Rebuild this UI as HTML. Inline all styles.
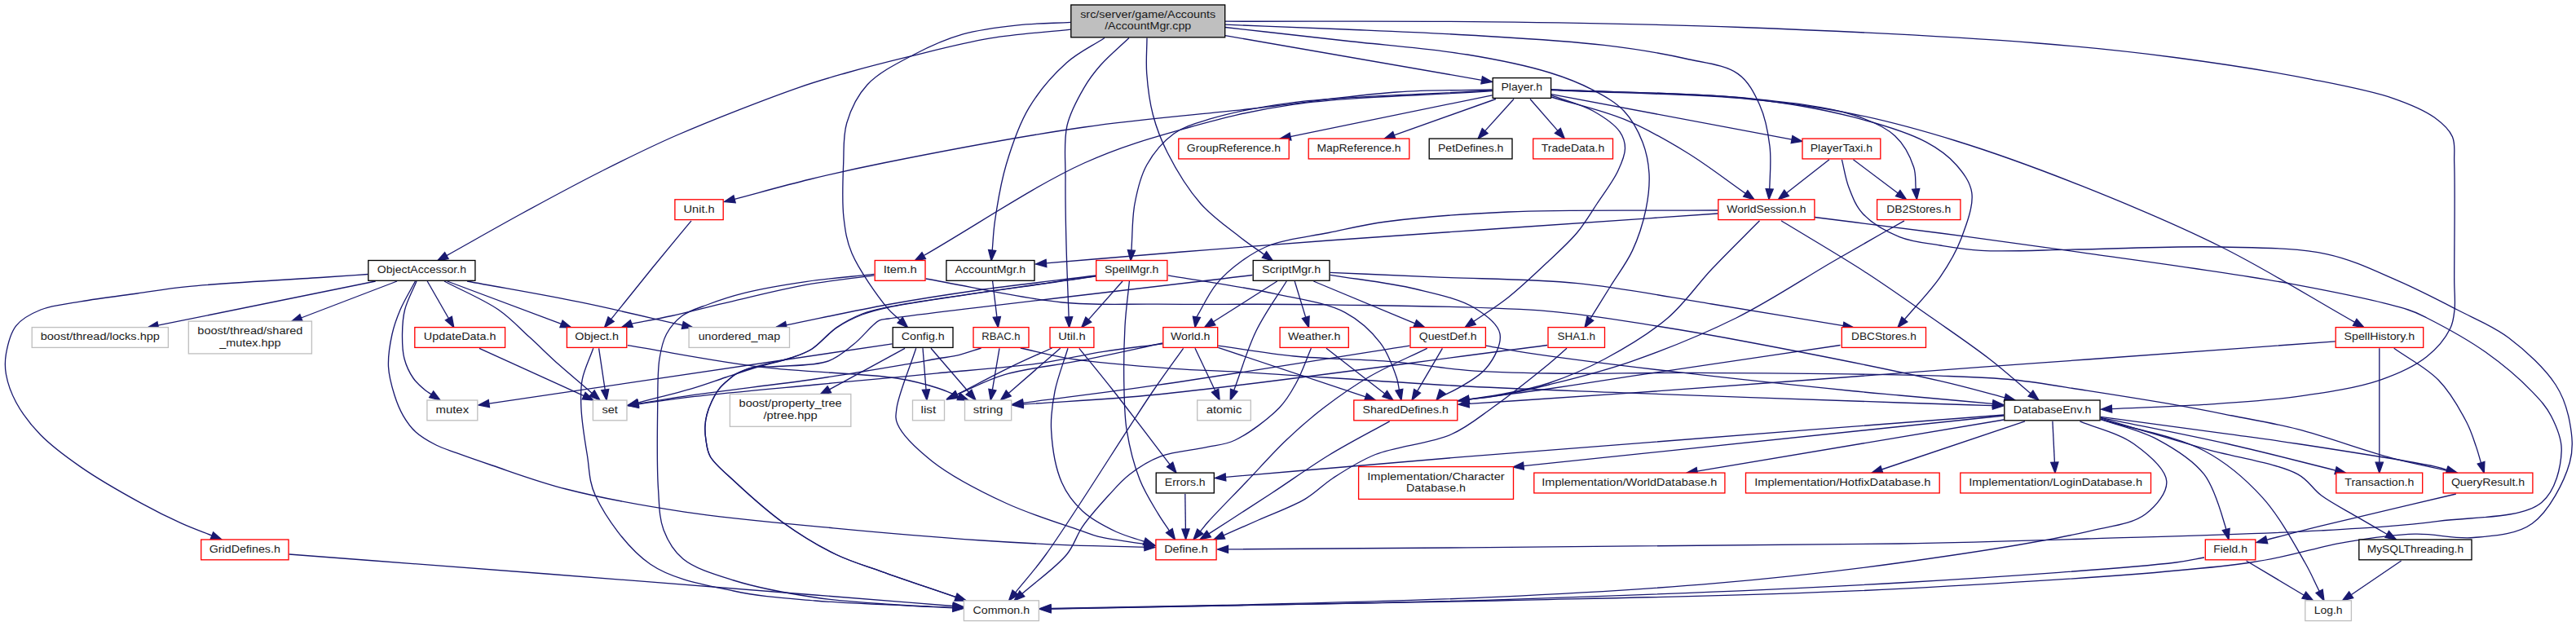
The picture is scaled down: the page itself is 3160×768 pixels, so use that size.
<!DOCTYPE html><html><head><meta charset="utf-8"><style>html,body{margin:0;padding:0;background:#fff;overflow:hidden}svg{display:block}.lbl text{font-family:"Liberation Sans",sans-serif;font-size:13px;fill:#1a1a1a;}</style></head><body>
<svg width="3160" height="768" viewBox="0 0 3160 768">
<rect width="3160" height="768" fill="#fff"/>
<g fill="none" stroke="#191970" stroke-width="1.33">
<path d="M1313.5,36.2 C1280.6,39.8 1247.8,41.4 1214.9,46.9 C1181.3,52.5 1145.4,62.1 1114.2,69.7 C1087.0,76.3 1061.6,82.8 1038.0,89.5 C1017.3,95.4 1003.7,99.1 980.0,107.3 C941.5,120.7 873.6,147.1 830.0,166.0 C795.3,181.1 769.0,194.4 738.0,210.0 C705.7,226.3 672.1,244.5 640.0,262.0 C608.7,279.1 578.6,296.4 547.8,313.6"/>
<path d="M1313.5,27.4 C1291.8,28.5 1270.3,28.4 1248.5,30.8 C1226.2,33.2 1202.8,35.8 1181.3,41.9 C1160.3,47.9 1140.4,56.8 1121.0,67.0 C1101.2,77.4 1077.9,88.8 1063.9,104.0 C1051.5,117.4 1043.5,134.6 1038.7,151.0 C1034.1,166.7 1035.4,182.4 1034.7,200.0 C1033.9,220.6 1032.7,247.2 1035.0,267.0 C1036.9,283.2 1038.4,295.2 1045.0,310.7 C1053.8,331.4 1076.9,363.8 1088.5,377.8 C1094.5,385.1 1099.0,387.8 1104.2,392.8"/>
<path d="M1355.0,46.5 C1339.5,56.7 1323.0,64.0 1308.4,77.0 C1291.7,91.9 1274.3,112.0 1262.0,132.7 C1249.5,153.7 1241.3,178.6 1234.3,202.0 C1227.5,224.9 1223.2,252.2 1220.4,271.6 C1218.4,285.3 1218.3,295.2 1217.2,307.1"/>
<path d="M1385.0,46.5 C1373.3,57.7 1359.7,69.0 1350.0,80.0 C1341.9,89.2 1336.2,96.6 1330.0,107.3 C1322.3,120.5 1313.0,136.7 1309.0,154.0 C1304.5,173.7 1307.2,196.9 1307.0,220.0 C1306.8,245.4 1307.3,272.6 1308.0,300.0 C1308.7,328.8 1310.1,359.2 1311.1,388.8"/>
<path d="M1407.0,46.5 C1406.9,61.0 1405.6,75.0 1406.7,90.0 C1407.9,106.4 1410.1,124.7 1414.4,141.0 C1418.6,157.0 1423.8,170.9 1432.0,187.0 C1442.1,206.9 1457.4,232.3 1473.0,250.0 C1487.1,266.0 1505.8,278.8 1520.0,290.0 C1531.2,298.8 1540.6,304.9 1551.0,312.4"/>
<path d="M1503.0,43.6 L1817.7,98.3"/>
<path d="M1503.0,30.2 C1552.0,32.1 1600.8,33.9 1650.0,36.0 C1699.8,38.1 1748.6,39.9 1800.0,43.0 C1854.4,46.3 1919.1,49.6 1967.7,55.4 C2005.5,59.9 2038.5,65.3 2068.0,72.0 C2091.9,77.4 2116.5,79.5 2132.0,90.6 C2144.9,99.8 2152.0,114.1 2158.4,128.3 C2165.3,143.5 2169.0,162.8 2171.0,179.5 C2172.9,195.0 2171.2,216.5 2171.0,225.0 C2170.9,228.3 2170.8,229.5 2170.7,231.8"/>
<path d="M1503.0,33.5 C1552.0,39.0 1600.8,44.4 1650.0,50.0 C1699.7,55.6 1755.1,59.6 1800.0,67.0 C1837.0,73.1 1872.6,80.4 1900.6,89.0 C1921.5,95.4 1938.1,102.0 1954.0,110.4 C1968.2,117.9 1981.8,125.2 1992.0,136.0 C2002.1,146.6 2009.8,161.2 2015.0,174.4 C2019.8,186.8 2022.2,199.4 2023.0,212.7 C2023.8,226.9 2022.1,241.9 2019.0,257.0 C2015.6,273.4 2009.8,291.6 2002.5,307.4 C1995.3,322.9 1984.5,336.8 1975.7,351.0 C1967.3,364.6 1959.2,377.5 1950.9,390.8"/>
<path d="M1503.0,26.2 C1612.0,26.4 1722.9,25.5 1830.0,26.8 C1933.6,28.0 2029.2,29.5 2135.5,33.5 C2251.7,37.9 2401.9,45.3 2500.0,53.0 C2566.7,58.3 2612.0,63.1 2667.8,70.5 C2723.8,77.9 2786.9,87.7 2835.6,97.3 C2873.5,104.8 2908.8,111.3 2936.2,120.8 C2956.3,127.8 2973.9,135.1 2986.6,144.3 C2996.2,151.3 3004.4,158.5 3008.4,167.8 C3012.4,177.1 3010.2,185.4 3010.7,200.0 C3011.8,230.8 3010.6,312.0 3010.7,344.0 C3010.8,360.0 3012.2,369.4 3011.0,380.0 C3010.1,388.6 3009.6,395.1 3005.7,403.0 C3000.3,414.0 2989.5,427.6 2977.0,437.5 C2962.0,449.4 2941.9,458.6 2919.4,466.3 C2891.1,476.0 2853.6,481.4 2818.8,486.4 C2781.9,491.7 2742.0,493.9 2703.8,496.4 C2665.9,498.9 2628.3,499.9 2590.5,501.6"/>
<path d="M1830.5,110.0 C1791.3,111.0 1756.2,110.0 1713.0,113.0 C1659.6,116.7 1596.0,126.6 1534.5,133.5 C1468.7,140.9 1401.2,145.7 1330.0,156.0 C1251.5,167.3 1145.3,187.6 1083.5,200.0 C1046.0,207.5 1023.5,212.7 993.4,220.0 C962.7,227.4 931.8,236.2 901.1,244.3"/>
<path d="M1830.5,111.7 C1748.9,117.2 1653.8,118.5 1585.6,128.3 C1535.8,135.4 1500.1,144.7 1457.8,156.5 C1414.9,168.5 1376.1,179.1 1330.0,200.0 C1270.2,227.1 1198.8,275.7 1133.3,313.5"/>
<path d="M1830.5,111.0 C1748.9,115.9 1649.5,117.5 1585.6,125.8 C1544.0,131.2 1510.0,138.2 1483.4,146.2 C1465.6,151.6 1452.6,154.9 1440.0,164.0 C1426.9,173.4 1414.7,188.1 1406.7,202.5 C1398.8,216.8 1395.1,233.3 1392.0,250.0 C1388.6,268.0 1389.3,288.0 1387.9,307.0"/>
<path d="M1830.5,116.8 L1583.0,167.6"/>
<path d="M1834.9,121.5 L1710.2,165.8"/>
<path d="M1857.0,121.5 L1821.7,160.6"/>
<path d="M1877.0,121.5 L1910.9,160.4"/>
<path d="M1903.0,115.7 L2198.0,171.1"/>
<path d="M1903.0,119.0 C1932.7,128.1 1963.9,134.6 1992.0,146.2 C2019.2,157.4 2044.2,171.9 2069.0,187.0 C2094.0,202.2 2117.2,220.6 2141.3,237.4"/>
<path d="M1903.0,110.0 C1983.9,113.6 2077.7,113.8 2145.6,120.7 C2195.1,125.7 2241.0,130.6 2273.4,141.0 C2295.0,147.9 2312.0,155.0 2324.6,166.7 C2335.7,177.0 2343.6,192.9 2347.6,205.0 C2350.7,214.4 2349.3,222.9 2350.2,231.9"/>
<path d="M1903.0,116.8 C1920.0,123.2 1939.4,127.8 1954.0,136.0 C1966.8,143.2 1980.6,152.5 1987.0,161.6 C1991.5,168.1 1993.5,174.7 1993.5,182.0 C1993.5,190.6 1989.2,200.2 1984.6,210.0 C1978.7,222.5 1967.5,237.2 1959.0,250.0 C1951.0,262.1 1944.3,273.7 1935.0,285.0 C1924.9,297.2 1912.9,307.8 1900.0,320.0 C1885.0,334.2 1866.4,352.0 1850.0,365.0 C1835.7,376.4 1821.8,384.6 1807.7,394.4"/>
<path d="M1903.0,110.0 C1983.7,113.7 2077.2,113.5 2145.0,121.0 C2194.7,126.5 2234.8,133.7 2273.4,143.7 C2306.3,152.2 2340.3,162.3 2363.0,174.4 C2378.9,182.9 2390.5,191.6 2400.0,202.5 C2408.6,212.5 2416.9,223.2 2418.8,236.3 C2421.1,252.3 2412.5,274.9 2405.9,292.4 C2399.5,309.3 2390.7,324.2 2380.0,339.8 C2368.0,357.3 2350.9,374.5 2336.4,391.8"/>
<path d="M1903.0,110.5 C1983.7,114.2 2077.1,115.1 2145.0,121.5 C2194.7,126.2 2231.0,131.2 2273.4,139.8 C2316.0,148.4 2356.1,159.4 2400.0,173.0 C2448.8,188.1 2500.5,207.0 2552.6,227.7 C2608.7,250.0 2669.0,275.0 2725.0,303.0 C2781.0,330.9 2834.1,364.6 2888.7,395.4"/>
<path d="M2244.0,195.8 L2191.6,236.8"/>
<path d="M2273.4,195.8 L2328.2,237.0"/>
<path d="M2259.4,195.8 C2262.3,207.2 2263.8,219.0 2268.0,230.0 C2272.3,241.1 2276.3,252.6 2285.0,262.0 C2295.5,273.4 2314.0,284.1 2330.0,290.6 C2345.7,297.0 2363.2,298.2 2380.0,301.0 C2396.8,303.8 2410.1,306.2 2430.6,307.4 C2461.9,309.2 2506.4,306.6 2550.0,306.0 C2602.8,305.2 2671.1,301.6 2725.0,303.0 C2771.5,304.2 2816.3,303.5 2854.6,311.8 C2886.8,318.8 2913.5,332.3 2940.8,344.1 C2966.6,355.2 2990.9,367.9 3014.3,380.0 C3036.3,391.4 3057.9,399.8 3077.5,414.5 C3098.3,430.1 3122.4,452.5 3135.0,472.0 C3144.8,487.1 3149.4,502.1 3152.3,518.0 C3155.2,533.9 3157.2,550.0 3152.3,567.5 C3145.7,590.7 3127.3,627.1 3106.3,642.3 C3087.1,656.2 3058.5,657.4 3034.4,659.5 C3010.6,661.6 2987.5,654.5 2962.5,655.2 C2935.0,656.0 2907.0,660.2 2876.3,665.3 C2840.6,671.2 2812.2,682.7 2761.3,690.0 C2663.7,704.1 2478.8,714.6 2330.0,722.4 C2170.8,730.7 1984.0,733.5 1835.0,737.0 C1712.5,739.9 1598.8,741.1 1500.0,743.0 C1421.6,744.5 1359.3,745.8 1289.0,747.2"/>
<path d="M2107.0,262.0 C2024.7,267.7 1940.9,273.4 1860.0,279.0 C1782.0,284.4 1702.0,289.7 1630.0,295.0 C1566.3,299.7 1508.8,304.3 1450.0,309.0 C1393.4,313.6 1339.0,318.3 1283.5,322.9"/>
<path d="M2107.0,258.0 C2021.3,258.7 1924.2,256.7 1850.0,260.0 C1793.3,262.5 1740.5,266.5 1700.0,272.0 C1672.1,275.8 1653.3,280.8 1630.0,285.5 C1606.7,290.2 1579.1,293.0 1560.0,300.0 C1545.4,305.4 1534.8,311.9 1523.5,320.0 C1512.1,328.2 1501.0,337.6 1491.9,348.8 C1482.4,360.5 1475.9,375.6 1467.9,388.9"/>
<path d="M2158.5,270.8 C2139.0,290.5 2118.9,310.0 2100.0,330.0 C2081.4,349.7 2066.9,372.1 2046.0,390.0 C2023.7,409.1 1994.8,426.3 1969.3,440.0 C1946.1,452.4 1922.6,462.5 1900.0,470.0 C1879.6,476.7 1857.8,480.6 1840.0,484.0 C1825.9,486.7 1814.6,487.9 1801.9,489.8"/>
<path d="M2185.0,270.8 C2220.0,292.2 2257.6,314.0 2290.0,335.0 C2318.7,353.7 2344.3,372.0 2370.0,390.0 C2394.2,407.0 2418.8,423.6 2440.0,440.0 C2458.7,454.4 2474.0,468.4 2491.0,482.7"/>
<path d="M2226.0,266.5 C2277.3,273.0 2327.2,279.1 2380.0,286.0 C2435.9,293.4 2489.3,300.5 2552.6,309.6 C2630.2,320.7 2738.1,334.8 2811.4,348.4 C2866.2,358.6 2927.0,371.2 2954.0,380.0 C2965.2,383.6 2967.4,385.1 2977.0,390.0 C2994.5,398.9 3026.8,416.3 3048.8,431.8 C3069.7,446.6 3092.0,465.7 3106.3,480.6 C3116.4,491.1 3123.4,498.6 3129.3,510.0 C3135.8,522.5 3142.8,537.5 3142.2,553.1 C3141.5,572.3 3135.4,601.8 3117.8,616.4 C3093.6,636.5 3035.0,633.7 2991.3,639.4 C2945.0,645.4 2903.7,647.7 2847.5,650.9 C2768.1,655.5 2650.5,658.2 2560.0,661.0 C2479.1,663.5 2430.3,665.3 2330.0,667.0 C2140.2,670.3 1781.0,671.6 1506.5,673.9"/>
<path d="M2336.0,270.8 C2307.3,287.2 2281.0,302.1 2250.0,320.0 C2213.3,341.2 2171.5,369.4 2130.0,390.0 C2088.2,410.7 2040.9,429.6 2000.0,443.8 C1964.9,456.0 1929.2,464.7 1900.0,472.0 C1877.6,477.6 1857.8,481.9 1840.0,485.0 C1825.9,487.5 1814.6,488.4 1801.9,490.1"/>
<path d="M451.1,336.5 C434.1,337.7 422.0,338.5 400.0,340.0 C359.9,342.7 272.6,347.3 230.0,351.6 C204.3,354.2 189.5,357.0 168.3,360.0 C145.9,363.1 120.1,366.2 99.0,369.9 C81.2,373.0 63.9,374.3 50.0,380.0 C38.2,384.8 26.9,390.6 19.8,399.6 C12.6,408.7 9.3,423.6 7.4,434.3 C5.9,443.1 5.9,450.2 7.4,459.0 C9.3,469.7 13.6,482.2 19.8,493.7 C27.0,507.0 37.4,520.8 49.5,533.3 C63.2,547.4 80.3,559.9 99.0,572.9 C120.8,588.1 150.8,605.1 173.3,617.4 C191.3,627.3 207.3,635.2 222.8,642.2 C235.9,648.1 247.6,652.2 259.9,657.1"/>
<path d="M460.7,345.0 L193.8,399.2"/>
<path d="M487.0,345.0 L369.4,390.0"/>
<path d="M511.0,345.0 C506.2,356.7 499.5,368.6 496.6,380.0 C494.0,390.2 493.6,400.0 493.5,410.0 C493.4,420.0 493.6,430.8 496.0,440.0 C498.3,448.7 502.3,457.3 507.0,464.0 C511.2,470.0 517.8,475.5 522.0,479.0 C524.7,481.2 526.8,482.2 529.2,483.8"/>
<path d="M509.4,345.0 C503.3,356.7 495.9,368.6 491.0,380.0 C486.7,390.2 483.4,399.1 481.0,410.0 C478.3,422.2 475.9,437.2 476.5,450.0 C477.1,462.1 480.7,474.5 484.0,485.0 C486.9,494.1 490.1,502.2 494.5,509.8 C498.8,517.2 503.6,524.1 510.0,530.0 C516.9,536.3 526.4,541.7 535.0,546.0 C543.1,550.1 550.5,552.2 560.0,555.7 C572.5,560.3 586.5,565.2 603.8,571.0 C628.5,579.3 660.3,591.3 694.4,600.0 C736.9,610.9 788.6,620.4 840.0,628.1 C897.1,636.7 961.3,642.0 1022.0,647.8 C1082.7,653.6 1152.1,659.4 1204.2,663.0 C1243.2,665.7 1273.0,667.2 1306.7,668.6 C1339.5,669.9 1371.6,670.3 1404.0,671.2"/>
<path d="M524.2,345.0 L550.3,390.5"/>
<path d="M545.0,345.0 C567.2,356.7 593.0,367.3 611.5,380.0 C626.7,390.5 637.1,402.3 649.5,413.6 C661.7,424.7 673.7,436.7 685.3,447.1 C696.0,456.7 709.2,467.6 716.6,474.0 C720.7,477.6 723.0,479.6 726.2,482.4"/>
<path d="M548.6,345.0 L688.5,397.3"/>
<path d="M573.0,345.0 C619.2,353.6 666.5,361.5 711.5,370.7 C754.5,379.5 795.4,389.5 837.3,399.0"/>
<path d="M1072.5,337.9 C1045.0,341.7 1018.9,344.0 990.0,349.2 C957.6,355.0 917.9,365.2 887.8,372.2 C864.0,377.7 843.8,383.2 823.9,387.5 C806.5,391.3 791.2,393.9 774.8,397.1"/>
<path d="M1072.5,336.4 C1045.0,339.4 1016.9,341.4 990.0,345.3 C963.9,349.1 935.4,353.9 913.4,359.4 C896.3,363.6 882.1,368.4 868.6,373.5 C856.9,377.9 845.4,381.0 836.7,387.5 C828.7,393.5 822.1,401.4 817.5,410.0 C812.8,418.8 810.9,428.2 809.0,440.0 C806.4,456.4 807.0,477.5 806.7,500.0 C806.3,529.1 805.6,572.4 807.5,600.0 C808.8,619.6 808.5,635.3 814.0,650.0 C819.1,663.5 826.0,675.8 837.7,685.5 C852.4,697.7 876.4,704.6 900.0,712.0 C929.0,721.1 966.5,728.0 1000.0,733.0 C1033.2,738.0 1069.7,739.8 1100.0,742.0 C1125.1,743.8 1146.0,744.5 1169.0,745.8"/>
<path d="M1135.7,342.0 C1191.5,351.7 1252.0,366.1 1303.0,371.0 C1345.3,375.0 1375.3,372.7 1420.0,373.2 C1479.8,373.8 1555.6,372.6 1630.0,373.8 C1714.4,375.2 1826.1,375.6 1900.0,381.8 C1951.9,386.1 1989.6,393.4 2032.0,400.0 C2071.6,406.2 2101.7,411.5 2146.5,420.0 C2210.7,432.1 2322.8,454.3 2380.0,467.4 C2413.6,475.1 2432.9,481.0 2459.4,487.8"/>
<path d="M1217.6,345.0 L1222.9,388.9"/>
<path d="M1377.0,345.0 L1335.3,392.1"/>
<path d="M1385.4,345.0 C1383.6,363.3 1381.1,379.9 1380.0,400.0 C1378.7,424.2 1378.4,456.7 1379.0,480.0 C1379.5,498.0 1379.5,511.1 1382.2,527.9 C1385.3,547.1 1391.1,570.6 1398.2,588.6 C1404.3,604.2 1413.8,618.8 1420.6,630.2 C1425.5,638.5 1429.8,644.2 1434.4,651.1"/>
<path d="M1344.5,338.0 C1296.3,344.0 1244.8,349.6 1200.0,356.0 C1160.8,361.6 1127.8,366.7 1090.0,373.5 C1049.5,380.8 1006.3,390.4 964.4,398.9"/>
<path d="M1344.5,338.6 C1259.7,351.2 1134.4,367.4 1090.0,376.5 C1074.0,379.8 1068.1,380.9 1057.7,385.0 C1047.0,389.2 1036.5,394.6 1026.5,401.5 C1015.7,408.9 1005.7,422.1 995.4,428.5 C987.1,433.7 979.9,435.7 970.5,439.0 C958.8,443.1 943.4,446.0 930.0,450.0 C916.6,454.0 903.3,458.6 890.0,463.0 C876.7,467.4 865.1,471.8 850.0,476.3 C830.5,482.1 805.0,488.2 782.6,494.2"/>
<path d="M1433.0,337.8 C1476.6,345.3 1524.9,351.8 1563.8,360.3 C1595.7,367.3 1627.2,371.2 1650.0,383.3 C1668.2,393.0 1682.5,406.5 1693.2,420.7 C1703.0,433.6 1709.8,453.1 1713.4,463.8 C1715.4,469.8 1715.4,473.4 1716.4,478.3"/>
<path d="M1344.5,338.8 C1259.7,351.5 1134.4,367.5 1090.0,377.0 C1074.0,380.4 1068.2,381.9 1057.7,386.0 C1047.0,390.2 1036.5,395.3 1026.5,402.0 C1015.7,409.2 1005.7,422.2 995.4,428.5 C987.0,433.7 980.3,435.7 970.5,439.0 C957.4,443.4 935.6,446.8 923.1,450.8 C914.6,453.5 907.9,455.9 902.3,459.1 C898.0,461.6 895.3,464.4 891.9,467.4 C888.4,470.6 884.6,473.8 881.6,477.8 C878.3,482.1 875.6,487.2 873.2,492.3 C870.7,497.6 868.4,503.6 867.0,509.0 C865.7,513.9 865.1,518.5 864.9,523.5 C864.7,528.8 865.1,534.4 866.0,540.1 C867.0,546.5 867.4,553.2 871.2,560.0 C876.7,569.7 888.8,579.1 900.7,590.2 C917.0,605.4 940.3,626.5 961.4,641.7 C981.8,656.3 1003.9,669.8 1025.0,680.0 C1044.0,689.2 1060.6,693.7 1081.8,701.3 C1108.5,710.9 1142.4,722.1 1172.7,732.6"/>
<path d="M1566.7,345.0 L1488.5,394.8"/>
<path d="M1578.2,345.0 C1565.7,365.4 1551.4,384.5 1540.8,406.3 C1529.8,429.0 1522.8,454.6 1513.7,478.8"/>
<path d="M1588.2,345.0 L1601.7,389.4"/>
<path d="M1611.3,345.0 L1735.9,396.8"/>
<path d="M1631.7,337.3 C1666.6,343.0 1705.0,346.9 1736.4,354.5 C1762.9,360.9 1790.1,366.4 1808.3,377.5 C1822.3,386.0 1837.4,396.9 1839.9,409.2 C1842.5,421.7 1833.0,440.1 1822.6,452.3 C1810.1,466.9 1766.6,488.4 1765.1,486.8 C1764.6,486.2 1768.2,482.6 1769.7,480.5"/>
<path d="M1631.7,334.4 C1676.2,336.3 1717.9,338.0 1765.1,340.1 C1818.4,342.4 1879.3,342.1 1935.5,347.7 C1991.0,353.2 2045.5,364.3 2100.0,373.0 C2154.0,381.6 2207.4,390.8 2261.2,399.7"/>
<path d="M1536.4,337.5 C1387.6,355.3 1131.1,384.6 1090.0,391.0 C1083.4,392.0 1082.9,391.0 1078.5,393.2 C1070.1,397.5 1058.1,413.8 1047.3,422.3 C1037.2,430.3 1028.9,438.4 1016.0,443.0 C999.4,449.0 970.9,448.2 953.8,449.5 C941.8,450.4 932.2,448.9 923.1,450.8 C915.3,452.5 907.9,455.9 902.3,459.1 C898.0,461.6 895.3,464.4 891.9,467.4 C888.4,470.6 884.6,473.8 881.6,477.8 C878.3,482.1 875.6,487.2 873.2,492.3 C870.7,497.6 868.4,503.6 867.0,509.0 C865.7,513.9 865.1,518.5 864.9,523.5 C864.7,528.8 865.1,534.4 866.0,540.1 C867.0,546.5 867.4,553.2 871.2,560.0 C876.7,569.7 888.8,579.1 900.7,590.2 C917.0,605.4 940.3,626.5 961.4,641.7 C981.8,656.3 1003.9,669.8 1025.0,680.0 C1044.0,689.2 1060.6,693.7 1081.8,701.3 C1108.5,710.9 1142.4,722.1 1172.7,732.6"/>
<path d="M588.0,427.3 L716.2,485.6"/>
<path d="M734.6,427.3 L742.2,478.1"/>
<path d="M727.8,427.3 C723.3,440.1 716.6,453.2 714.2,465.8 C712.0,477.4 712.3,487.1 712.9,500.0 C713.6,516.8 717.2,539.4 720.3,558.0 C723.2,575.3 722.1,590.3 730.4,608.0 C742.4,633.7 769.2,672.5 797.5,692.0 C825.8,711.5 865.7,717.5 900.0,725.0 C933.2,732.3 962.3,733.8 1000.0,737.0 C1048.9,741.1 1112.7,742.6 1169.0,745.4"/>
<path d="M769.9,423.7 C824.6,432.6 879.0,443.7 934.0,450.4 C989.0,457.1 1061.0,457.8 1100.0,464.0 C1121.7,467.5 1136.2,471.6 1150.0,476.0 C1160.2,479.2 1167.3,482.8 1175.9,486.2"/>
<path d="M1110.0,427.3 L1017.4,477.8"/>
<path d="M1132.0,427.3 L1136.0,478.0"/>
<path d="M1142.0,427.3 L1188.5,481.2"/>
<path d="M1123.7,427.3 C1115.8,451.8 1102.2,483.9 1100.0,500.7 C1098.9,509.2 1097.9,513.0 1101.0,520.3 C1106.5,533.2 1125.3,551.5 1143.5,565.9 C1167.1,584.5 1203.6,603.2 1234.5,617.5 C1264.3,631.3 1305.6,643.8 1325.6,650.9 C1335.4,654.4 1338.4,656.1 1347.6,658.4 C1362.0,662.0 1385.3,664.4 1404.2,667.4"/>
<path d="M1094.5,421.9 L599.9,495.1"/>
<path d="M1226.0,427.3 L1217.4,478.2"/>
<path d="M1203.6,427.0 C1194.7,429.8 1186.0,433.2 1177.0,435.4 C1168.1,437.6 1159.9,438.3 1150.0,440.0 C1138.0,442.1 1126.7,444.4 1110.0,447.2 C1082.4,451.9 1039.6,459.2 1000.0,465.0 C953.9,471.7 890.1,478.8 850.0,484.6 C823.1,488.5 805.2,491.8 782.8,495.4"/>
<path d="M1251.8,427.0 C1272.2,431.4 1288.8,436.4 1313.0,440.1 C1347.6,445.4 1402.2,449.5 1440.0,452.3 C1470.5,454.5 1487.0,454.5 1522.6,456.5 C1587.9,460.2 1716.1,469.6 1800.0,474.0 C1869.6,477.6 1918.3,479.0 1991.0,481.8 C2087.9,485.5 2246.9,491.2 2330.0,494.0 C2378.3,495.6 2406.3,496.4 2444.5,497.6"/>
<path d="M1290.5,427.0 C1275.3,433.9 1261.8,439.5 1245.0,447.6 C1223.8,457.8 1197.4,471.9 1173.6,484.1"/>
<path d="M1300.7,427.3 L1237.2,482.5"/>
<path d="M1310.0,427.3 C1304.7,444.9 1297.4,462.7 1294.0,480.0 C1290.8,496.2 1288.7,510.9 1289.6,527.9 C1290.7,547.7 1294.8,574.3 1302.4,591.8 C1308.6,606.1 1317.2,617.1 1327.9,627.0 C1339.3,637.5 1356.0,646.1 1369.5,652.5 C1381.2,658.0 1392.3,660.3 1403.7,664.3"/>
<path d="M1323.8,427.3 C1338.0,444.9 1350.6,460.0 1366.3,480.0 C1386.6,505.9 1412.2,539.9 1435.1,569.9"/>
<path d="M1426.0,421.8 C1401.9,425.0 1378.4,427.4 1353.6,431.3 C1327.2,435.4 1302.0,442.0 1272.0,446.2 C1235.5,451.3 1179.6,454.9 1150.0,457.8 C1133.0,459.5 1126.6,460.2 1110.0,461.8 C1082.4,464.5 1039.5,468.2 1000.0,472.0 C953.9,476.4 890.0,482.0 850.0,486.7 C823.2,489.8 805.3,492.7 782.9,495.8"/>
<path d="M1426.0,421.0 C1392.8,428.1 1359.3,435.7 1326.5,442.2 C1294.5,448.6 1258.8,451.6 1231.5,459.8 C1209.5,466.4 1193.2,475.9 1174.0,484.0"/>
<path d="M1451.6,427.3 C1439.1,444.9 1430.2,456.6 1414.2,480.0 C1383.5,525.0 1314.4,637.0 1283.2,680.0 C1267.6,701.6 1258.2,711.2 1245.6,726.9"/>
<path d="M1466.0,427.3 L1490.6,479.3"/>
<path d="M1494.2,426.4 L1675.2,486.9"/>
<path d="M1494.2,424.1 C1525.4,428.4 1554.6,433.8 1587.8,437.0 C1625.2,440.6 1670.3,440.5 1707.6,443.7 C1740.4,446.5 1768.5,451.9 1800.0,454.3 C1832.6,456.8 1861.9,457.4 1900.0,458.0 C1950.7,458.9 2010.5,457.1 2077.5,457.4 C2165.0,457.8 2308.8,458.9 2380.0,461.2 C2418.8,462.5 2440.1,463.0 2470.0,466.0 C2500.1,469.0 2528.2,474.3 2560.0,479.2 C2596.0,484.8 2642.4,492.1 2675.0,497.9 C2699.3,502.2 2716.0,505.6 2738.3,510.0 C2763.5,515.0 2789.8,519.2 2818.8,526.6 C2853.9,535.6 2900.4,552.9 2933.8,561.8 C2959.2,568.6 2979.0,572.1 3001.6,577.3"/>
<path d="M1608.4,427.3 C1602.3,441.5 1597.0,457.3 1590.0,470.0 C1583.8,481.2 1579.2,490.1 1569.6,500.0 C1556.5,513.5 1531.9,532.1 1515.0,540.0 C1502.7,545.8 1493.1,545.8 1480.0,548.7 C1463.5,552.4 1440.3,553.7 1423.8,559.9 C1409.3,565.4 1396.4,573.7 1385.4,582.2 C1375.5,589.9 1368.7,598.2 1359.9,607.8 C1349.6,619.1 1336.7,633.3 1327.9,646.1 C1320.1,657.4 1318.1,668.5 1308.8,680.0 C1296.0,695.8 1272.1,712.3 1253.8,728.4"/>
<path d="M1627.0,427.3 L1698.7,483.0"/>
<path d="M1729.2,424.1 C1626.1,440.2 1507.1,459.8 1420.0,472.4 C1356.5,481.6 1309.9,487.0 1254.9,494.3"/>
<path d="M1769.4,427.3 L1738.6,479.8"/>
<path d="M1750.7,427.3 C1727.1,438.9 1701.8,449.3 1680.0,462.0 C1659.9,473.7 1641.6,486.7 1624.2,500.0 C1607.6,512.7 1593.0,525.5 1577.8,540.0 C1561.6,555.4 1545.9,573.3 1530.0,590.0 C1514.1,606.7 1492.1,628.9 1482.2,640.0 C1477.5,645.3 1475.6,648.0 1472.3,652.0"/>
<path d="M1822.6,424.1 C1841.7,427.3 1855.5,430.2 1880.0,433.8 C1923.1,440.2 1996.8,449.4 2059.0,456.7 C2126.6,464.7 2222.2,474.6 2271.0,479.5 C2296.7,482.1 2307.1,482.9 2330.0,485.0 C2361.9,487.9 2406.4,491.9 2444.6,495.3"/>
<path d="M1898.0,423.5 C1738.7,443.7 1538.1,472.2 1420.0,484.0 C1350.8,490.9 1310.0,492.0 1255.0,496.1"/>
<path d="M1922.0,427.3 C1914.7,433.7 1909.5,438.7 1900.0,446.5 C1883.5,460.0 1852.6,484.7 1831.0,500.0 C1813.0,512.8 1800.4,524.0 1780.0,533.0 C1754.4,544.3 1713.3,547.1 1687.4,557.5 C1667.1,565.7 1650.9,576.3 1635.7,586.2 C1622.7,594.6 1614.7,604.1 1601.2,612.1 C1584.9,621.7 1561.5,630.1 1543.7,638.0 C1528.4,644.8 1515.2,650.5 1500.9,656.8"/>
<path d="M2257.5,423.5 C2171.7,436.2 2065.9,451.8 2000.0,461.7 C1958.9,467.9 1933.2,472.2 1900.0,477.0 C1867.2,481.7 1834.6,485.7 1801.9,490.1"/>
<path d="M2864.8,418.8 C2763.2,426.2 2640.3,435.2 2560.0,441.0 C2507.6,444.8 2485.9,446.3 2430.0,450.4 C2328.3,457.8 2115.9,474.1 2000.0,482.2 C1921.4,487.7 1868.0,491.0 1802.0,495.3"/>
<path d="M2918.8,427.3 L2918.8,567.2"/>
<path d="M2936.7,427.3 C2954.9,440.3 2976.3,450.8 2991.3,466.3 C3005.8,481.2 3017.9,502.8 3025.8,518.0 C3031.4,528.8 3034.2,538.4 3037.3,547.4 C3039.9,554.8 3041.4,561.0 3043.5,567.8"/>
<path d="M1704.7,516.8 C1680.1,530.5 1654.9,543.3 1630.8,558.0 C1606.7,572.7 1584.1,589.2 1560.0,605.0 C1534.9,621.5 1508.6,638.3 1482.9,654.9"/>
<path d="M2458.0,509.0 C2235.3,526.3 1966.2,546.5 1790.0,560.9 C1674.5,570.3 1599.0,577.2 1503.5,585.4"/>
<path d="M2458.0,510.0 L1868.9,571.6"/>
<path d="M2458.0,515.0 L2081.8,578.1"/>
<path d="M2484.0,516.8 L2308.3,576.0"/>
<path d="M2517.9,516.8 L2520.4,567.2"/>
<path d="M2577.0,512.3 C2628.8,523.0 2682.8,533.3 2732.5,544.5 C2778.6,554.9 2820.9,566.2 2865.1,577.1"/>
<path d="M2577.0,511.4 C2628.8,518.4 2688.2,526.3 2732.5,532.4 C2765.5,536.9 2785.1,539.3 2818.8,544.5 C2866.5,551.8 2968.6,568.0 2991.3,573.3 C2997.0,574.6 2998.3,575.4 3001.8,576.5"/>
<path d="M2577.0,514.3 C2600.0,522.5 2624.8,527.5 2646.0,538.8 C2667.0,550.0 2689.8,563.9 2703.8,581.9 C2717.4,599.5 2726.7,636.2 2729.6,645.0 C2730.4,647.3 2730.4,647.9 2730.7,649.4"/>
<path d="M2577.0,514.5 C2619.3,527.3 2668.9,534.6 2703.8,553.0 C2732.9,568.3 2755.1,588.0 2775.6,610.6 C2796.4,633.6 2815.1,668.5 2827.4,690.0 C2835.4,703.9 2839.2,713.6 2845.2,725.4"/>
<path d="M2577.0,512.9 C2619.3,525.4 2662.5,538.5 2703.8,550.3 C2743.0,561.5 2794.2,568.4 2818.8,581.9 C2832.8,589.6 2836.5,599.7 2847.5,607.8 C2860.0,617.1 2876.7,625.4 2890.6,633.6 C2903.6,641.2 2915.7,648.2 2928.3,655.5"/>
<path d="M2551.4,516.8 C2573.4,526.0 2599.4,531.4 2617.5,544.5 C2634.3,556.6 2656.7,575.2 2657.8,590.5 C2658.8,604.0 2645.2,620.8 2631.9,630.8 C2615.2,643.3 2591.0,645.1 2560.0,652.3 C2505.3,665.0 2406.5,679.9 2330.0,690.5 C2254.5,701.0 2182.7,708.9 2104.0,715.7 C2018.4,723.1 1930.0,728.0 1835.5,732.4 C1729.9,737.3 1598.9,740.1 1500.0,742.5 C1421.6,744.4 1359.3,745.0 1289.0,746.3"/>
<path d="M3012.8,606.0 C2957.7,619.0 2890.3,634.5 2847.5,645.1 C2820.2,651.8 2802.9,656.5 2780.6,662.3"/>
<path d="M2755.5,688.0 L2826.3,730.2"/>
<path d="M2704.0,684.0 C2692.4,686.0 2686.9,687.8 2669.3,690.0 C2614.6,696.7 2453.8,707.8 2330.0,715.0 C2180.7,723.6 1984.4,731.1 1835.5,735.8 C1712.9,739.7 1598.9,741.1 1500.0,743.0 C1421.5,744.5 1359.3,745.5 1289.0,746.8"/>
<path d="M2945.6,688.0 L2884.2,729.7"/>
<path d="M1453.8,606.0 L1454.4,649.0"/>
<path d="M354.6,680.0 C459.7,688.0 563.7,695.8 670.0,704.0 C778.8,712.4 908.2,722.7 1000.0,730.0 C1065.7,735.2 1112.7,739.0 1169.0,743.5"/>
<path d="M848.0,270.8 C832.0,290.2 816.1,309.2 800.0,329.0 C783.4,349.5 766.4,370.8 749.6,391.7"/>
</g>
<g fill="#191970" stroke="#191970" stroke-width="1.33">
<polygon points="545.6,309.7 536.5,320.0 550.1,317.6"/>
<polygon points="1101.1,396.1 1113.6,401.8 1107.3,389.5"/>
<polygon points="1212.6,306.6 1216.0,320.0 1221.7,307.5"/>
<polygon points="1306.6,389.0 1311.6,401.8 1315.7,388.6"/>
<polygon points="1548.3,316.1 1561.5,320.0 1553.6,308.7"/>
<polygon points="1816.9,102.8 1830.5,100.5 1818.5,93.8"/>
<polygon points="2166.1,231.6 2170.0,244.8 2175.2,232.0"/>
<polygon points="1947.0,388.4 1944.0,401.8 1954.7,393.2"/>
<polygon points="2590.3,497.1 2577.5,502.2 2590.7,506.1"/>
<polygon points="899.9,239.9 888.5,247.6 902.2,248.7"/>
<polygon points="1131.0,309.6 1122.0,320.0 1135.5,317.4"/>
<polygon points="1383.4,306.7 1387.0,320.0 1392.5,307.4"/>
<polygon points="1582.1,163.1 1570.3,170.2 1583.9,172.0"/>
<polygon points="1708.7,161.6 1698.0,170.2 1711.8,170.1"/>
<polygon points="1818.3,157.5 1813.0,170.2 1825.1,163.6"/>
<polygon points="1907.4,163.4 1919.4,170.2 1914.3,157.4"/>
<polygon points="2197.2,175.6 2210.8,173.5 2198.9,166.6"/>
<polygon points="2138.7,241.1 2152.0,244.8 2143.9,233.6"/>
<polygon points="2345.6,232.3 2351.4,244.8 2354.7,231.4"/>
<polygon points="1805.1,390.6 1797.0,401.8 1810.3,398.1"/>
<polygon points="2332.9,388.9 2328.0,401.8 2339.8,394.8"/>
<polygon points="2886.4,399.4 2900.0,401.8 2890.9,391.4"/>
<polygon points="2188.8,233.2 2181.4,244.8 2194.4,240.4"/>
<polygon points="2325.5,240.6 2338.6,244.8 2330.9,233.4"/>
<polygon points="1288.9,742.7 1276.0,747.5 1289.1,751.8"/>
<polygon points="1283.1,318.4 1270.5,324.0 1283.8,327.5"/>
<polygon points="1463.4,388.3 1466.0,401.8 1472.4,389.6"/>
<polygon points="1801.2,485.3 1789.0,491.8 1802.5,494.3"/>
<polygon points="2488.1,486.2 2501.0,491.0 2493.9,479.2"/>
<polygon points="1506.5,669.3 1493.5,674.0 1506.5,678.4"/>
<polygon points="1801.3,485.6 1789.0,491.8 1802.5,494.6"/>
<polygon points="258.2,661.4 272.0,662.0 261.6,652.9"/>
<polygon points="192.9,394.8 181.1,401.8 194.7,403.7"/>
<polygon points="367.8,385.7 357.3,394.6 371.1,394.2"/>
<polygon points="526.7,487.6 540.0,491.0 531.7,480.0"/>
<polygon points="1403.9,675.7 1417.0,671.5 1404.1,666.6"/>
<polygon points="546.4,392.8 556.8,401.8 554.3,388.3"/>
<polygon points="723.2,485.9 736.0,491.0 729.2,479.0"/>
<polygon points="686.9,401.5 700.7,401.8 690.1,393.0"/>
<polygon points="836.3,403.4 850.0,401.8 838.3,394.5"/>
<polygon points="773.3,392.8 762.6,401.5 776.4,401.4"/>
<polygon points="1168.8,750.3 1182.0,746.5 1169.3,741.2"/>
<polygon points="2458.3,492.2 2472.0,491.0 2460.5,483.4"/>
<polygon points="1218.3,389.4 1224.4,401.8 1227.4,388.4"/>
<polygon points="1331.9,389.1 1326.7,401.8 1338.7,395.1"/>
<polygon points="1430.6,653.6 1441.5,662.0 1438.2,648.6"/>
<polygon points="963.5,394.5 951.7,401.5 965.3,403.4"/>
<polygon points="781.4,489.8 770.0,497.5 783.7,498.6"/>
<polygon points="1711.9,479.2 1719.0,491.0 1720.8,477.3"/>
<polygon points="1171.2,736.9 1185.0,736.8 1174.2,728.3"/>
<polygon points="1486.0,391.0 1477.5,401.8 1490.9,398.7"/>
<polygon points="1509.5,477.2 1509.2,491.0 1518.0,480.4"/>
<polygon points="1597.4,390.7 1605.5,401.8 1606.1,388.0"/>
<polygon points="1734.1,401.0 1747.9,401.8 1737.6,392.6"/>
<polygon points="1766.1,477.8 1762.0,491.0 1773.4,483.2"/>
<polygon points="2260.4,404.2 2274.0,401.8 2261.9,395.2"/>
<polygon points="1171.2,736.9 1185.0,736.8 1174.2,728.3"/>
<polygon points="714.3,489.8 728.0,491.0 718.1,481.5"/>
<polygon points="737.7,478.8 744.1,491.0 746.7,477.5"/>
<polygon points="1168.8,749.9 1182.0,746.0 1169.2,740.8"/>
<polygon points="1174.2,490.5 1188.0,491.0 1177.6,482.0"/>
<polygon points="1015.2,473.8 1006.0,484.0 1019.6,481.8"/>
<polygon points="1131.4,478.4 1137.0,491.0 1140.5,477.7"/>
<polygon points="1185.1,484.1 1197.0,491.0 1191.9,478.2"/>
<polygon points="1403.4,671.9 1417.0,669.5 1404.9,663.0"/>
<polygon points="599.2,490.6 587.0,497.0 600.5,499.6"/>
<polygon points="1212.9,477.4 1215.2,491.0 1221.9,478.9"/>
<polygon points="782.1,490.9 770.0,497.5 783.6,499.9"/>
<polygon points="2444.4,502.1 2457.5,498.0 2444.6,493.0"/>
<polygon points="1171.5,480.0 1162.0,490.0 1175.6,488.1"/>
<polygon points="1234.2,479.0 1227.4,491.0 1240.2,485.9"/>
<polygon points="1402.2,668.6 1416.0,668.5 1405.2,660.0"/>
<polygon points="1431.5,572.6 1443.0,580.2 1438.7,567.1"/>
<polygon points="782.3,491.3 770.0,497.5 783.5,500.3"/>
<polygon points="1172.2,479.8 1162.0,489.0 1175.7,488.2"/>
<polygon points="1242.1,724.0 1237.5,737.0 1249.2,729.7"/>
<polygon points="1486.5,481.2 1496.2,491.0 1494.7,477.3"/>
<polygon points="1673.7,491.2 1687.5,491.0 1676.6,482.6"/>
<polygon points="3000.6,581.7 3014.3,580.2 3002.6,572.9"/>
<polygon points="1250.8,725.0 1244.0,737.0 1256.8,731.8"/>
<polygon points="1695.9,486.6 1709.0,491.0 1701.5,479.4"/>
<polygon points="1254.3,489.8 1242.0,496.0 1255.5,498.8"/>
<polygon points="1734.7,477.5 1732.0,491.0 1742.5,482.1"/>
<polygon points="1468.8,649.1 1464.0,662.0 1475.8,654.9"/>
<polygon points="2444.1,499.9 2457.5,496.5 2445.0,490.8"/>
<polygon points="1254.6,491.5 1242.0,497.0 1255.3,500.6"/>
<polygon points="1499.1,652.6 1489.0,662.0 1502.7,660.9"/>
<polygon points="1801.3,485.6 1789.0,491.8 1802.5,494.6"/>
<polygon points="1801.7,490.8 1789.0,496.2 1802.3,499.9"/>
<polygon points="2914.2,567.2 2918.8,580.2 2923.4,567.2"/>
<polygon points="3039.2,569.1 3047.3,580.2 3047.9,566.4"/>
<polygon points="1480.4,651.1 1472.0,662.0 1485.4,658.8"/>
<polygon points="1503.1,580.9 1490.5,586.5 1503.8,589.9"/>
<polygon points="1868.5,567.1 1856.0,573.0 1869.4,576.2"/>
<polygon points="2081.1,573.6 2069.0,580.2 2082.6,582.5"/>
<polygon points="2306.9,571.7 2296.0,580.2 2309.8,580.4"/>
<polygon points="2515.8,567.4 2521.0,580.2 2524.9,567.0"/>
<polygon points="2864.0,581.5 2877.7,580.2 2866.2,572.7"/>
<polygon points="3000.5,580.8 3014.3,580.2 3003.2,572.1"/>
<polygon points="2726.3,650.6 2734.0,662.0 2735.1,648.3"/>
<polygon points="2841.1,727.4 2851.0,737.0 2849.2,723.3"/>
<polygon points="2926.0,659.4 2939.5,662.0 2930.5,651.5"/>
<polygon points="1288.9,741.7 1276.0,746.5 1289.1,750.8"/>
<polygon points="2779.5,657.9 2768.0,665.5 2781.7,666.7"/>
<polygon points="2824.0,734.1 2837.5,736.8 2828.7,726.2"/>
<polygon points="1288.9,742.2 1276.0,747.0 1289.1,751.3"/>
<polygon points="2881.6,725.9 2873.4,737.0 2886.7,733.5"/>
<polygon points="1449.9,649.1 1454.6,662.0 1459.0,648.9"/>
<polygon points="1168.7,748.0 1182.0,744.5 1169.4,738.9"/>
<polygon points="746.1,388.8 741.5,401.8 753.2,394.5"/>
</g>
<g class="lbl" text-anchor="middle">
<rect x="1313.8" y="6.0" width="188.9" height="39.8" fill="#bfbfbf" stroke="#000000" stroke-width="1.33"/>
<text x="1408.2" y="21.9" textLength="166.0" lengthAdjust="spacingAndGlyphs">src/server/game/Accounts</text>
<text x="1408.2" y="36.4" textLength="106.1" lengthAdjust="spacingAndGlyphs">/AccountMgr.cpp</text>
<rect x="1831.2" y="95.6" width="71.4" height="24.8" fill="#fff" stroke="#000000" stroke-width="1.33"/>
<text x="1866.8" y="111.4" textLength="50.6" lengthAdjust="spacingAndGlyphs">Player.h</text>
<rect x="1445.8" y="170.1" width="135.4" height="24.8" fill="#fff" stroke="#ff0000" stroke-width="1.33"/>
<text x="1513.4" y="185.9" textLength="115.1" lengthAdjust="spacingAndGlyphs">GroupReference.h</text>
<rect x="1605.2" y="170.1" width="123.6" height="24.8" fill="#fff" stroke="#ff0000" stroke-width="1.33"/>
<text x="1667.0" y="185.9" textLength="103.2" lengthAdjust="spacingAndGlyphs">MapReference.h</text>
<rect x="1753.2" y="170.1" width="101.8" height="24.8" fill="#fff" stroke="#000000" stroke-width="1.33"/>
<text x="1804.2" y="185.9" textLength="80.4" lengthAdjust="spacingAndGlyphs">PetDefines.h</text>
<rect x="1880.7" y="170.1" width="97.8" height="24.8" fill="#fff" stroke="#ff0000" stroke-width="1.33"/>
<text x="1929.5" y="185.9" textLength="77.4" lengthAdjust="spacingAndGlyphs">TradeData.h</text>
<rect x="2211.0" y="170.1" width="95.8" height="24.8" fill="#fff" stroke="#ff0000" stroke-width="1.33"/>
<text x="2258.9" y="185.9" textLength="76.3" lengthAdjust="spacingAndGlyphs">PlayerTaxi.h</text>
<rect x="827.9" y="244.8" width="59.3" height="24.8" fill="#fff" stroke="#ff0000" stroke-width="1.33"/>
<text x="857.6" y="260.6" textLength="38.1" lengthAdjust="spacingAndGlyphs">Unit.h</text>
<rect x="2107.8" y="244.8" width="118.1" height="24.8" fill="#fff" stroke="#ff0000" stroke-width="1.33"/>
<text x="2166.9" y="260.6" textLength="97.2" lengthAdjust="spacingAndGlyphs">WorldSession.h</text>
<rect x="2302.6" y="244.8" width="102.3" height="24.8" fill="#fff" stroke="#ff0000" stroke-width="1.33"/>
<text x="2353.7" y="260.6" textLength="79.1" lengthAdjust="spacingAndGlyphs">DB2Stores.h</text>
<rect x="451.8" y="319.5" width="131.1" height="24.8" fill="#fff" stroke="#000000" stroke-width="1.33"/>
<text x="517.4" y="335.3" textLength="109.1" lengthAdjust="spacingAndGlyphs">ObjectAccessor.h</text>
<rect x="1073.2" y="319.5" width="61.8" height="24.8" fill="#fff" stroke="#ff0000" stroke-width="1.33"/>
<text x="1104.2" y="335.3" textLength="41.1" lengthAdjust="spacingAndGlyphs">Item.h</text>
<rect x="1160.9" y="319.5" width="108.1" height="24.8" fill="#fff" stroke="#000000" stroke-width="1.33"/>
<text x="1214.9" y="335.3" textLength="86.7" lengthAdjust="spacingAndGlyphs">AccountMgr.h</text>
<rect x="1344.7" y="319.5" width="87.2" height="24.8" fill="#fff" stroke="#ff0000" stroke-width="1.33"/>
<text x="1388.2" y="335.3" textLength="66.4" lengthAdjust="spacingAndGlyphs">SpellMgr.h</text>
<rect x="1537.2" y="319.5" width="93.8" height="24.8" fill="#fff" stroke="#000000" stroke-width="1.33"/>
<text x="1584.0" y="335.3" textLength="72.2" lengthAdjust="spacingAndGlyphs">ScriptMgr.h</text>
<rect x="39.2" y="401.6" width="167.2" height="24.8" fill="#fff" stroke="#bfbfbf" stroke-width="1.33"/>
<text x="122.8" y="417.4" textLength="146.3" lengthAdjust="spacingAndGlyphs">boost/thread/locks.hpp</text>
<rect x="231.3" y="394.1" width="151.1" height="39.8" fill="#fff" stroke="#bfbfbf" stroke-width="1.33"/>
<text x="306.9" y="410.0" textLength="129.1" lengthAdjust="spacingAndGlyphs">boost/thread/shared</text>
<text x="306.9" y="424.5" textLength="75.3" lengthAdjust="spacingAndGlyphs">_mutex.hpp</text>
<rect x="508.8" y="401.6" width="110.8" height="24.8" fill="#fff" stroke="#ff0000" stroke-width="1.33"/>
<text x="564.2" y="417.4" textLength="88.7" lengthAdjust="spacingAndGlyphs">UpdateData.h</text>
<rect x="695.4" y="401.6" width="73.4" height="24.8" fill="#fff" stroke="#ff0000" stroke-width="1.33"/>
<text x="732.1" y="417.4" textLength="53.6" lengthAdjust="spacingAndGlyphs">Object.h</text>
<rect x="845.1" y="401.6" width="123.4" height="24.8" fill="#fff" stroke="#bfbfbf" stroke-width="1.33"/>
<text x="906.9" y="417.4" textLength="100.4" lengthAdjust="spacingAndGlyphs">unordered_map</text>
<rect x="1095.2" y="401.6" width="73.8" height="24.8" fill="#fff" stroke="#000000" stroke-width="1.33"/>
<text x="1132.2" y="417.4" textLength="53.0" lengthAdjust="spacingAndGlyphs">Config.h</text>
<rect x="1194.0" y="401.6" width="68.0" height="24.8" fill="#fff" stroke="#ff0000" stroke-width="1.33"/>
<text x="1227.9" y="417.4" textLength="47.1" lengthAdjust="spacingAndGlyphs">RBAC.h</text>
<rect x="1288.0" y="401.6" width="53.9" height="24.8" fill="#fff" stroke="#ff0000" stroke-width="1.33"/>
<text x="1314.9" y="417.4" textLength="33.5" lengthAdjust="spacingAndGlyphs">Util.h</text>
<rect x="1426.8" y="401.6" width="66.9" height="24.8" fill="#fff" stroke="#ff0000" stroke-width="1.33"/>
<text x="1460.2" y="417.4" textLength="48.6" lengthAdjust="spacingAndGlyphs">World.h</text>
<rect x="1570.1" y="401.6" width="84.2" height="24.8" fill="#fff" stroke="#ff0000" stroke-width="1.33"/>
<text x="1612.2" y="417.4" textLength="64.6" lengthAdjust="spacingAndGlyphs">Weather.h</text>
<rect x="1730.0" y="401.6" width="92.4" height="24.8" fill="#fff" stroke="#ff0000" stroke-width="1.33"/>
<text x="1776.2" y="417.4" textLength="70.9" lengthAdjust="spacingAndGlyphs">QuestDef.h</text>
<rect x="1899.0" y="401.6" width="69.5" height="24.8" fill="#fff" stroke="#ff0000" stroke-width="1.33"/>
<text x="1933.7" y="417.4" textLength="46.6" lengthAdjust="spacingAndGlyphs">SHA1.h</text>
<rect x="2259.3" y="401.6" width="103.2" height="24.8" fill="#fff" stroke="#ff0000" stroke-width="1.33"/>
<text x="2310.9" y="417.4" textLength="79.7" lengthAdjust="spacingAndGlyphs">DBCStores.h</text>
<rect x="2865.2" y="401.6" width="107.5" height="24.8" fill="#fff" stroke="#ff0000" stroke-width="1.33"/>
<text x="2918.9" y="417.4" textLength="86.7" lengthAdjust="spacingAndGlyphs">SpellHistory.h</text>
<rect x="523.9" y="491.0" width="61.9" height="24.8" fill="#fff" stroke="#bfbfbf" stroke-width="1.33"/>
<text x="554.8" y="506.8" textLength="40.6" lengthAdjust="spacingAndGlyphs">mutex</text>
<rect x="727.4" y="491.0" width="41.6" height="24.8" fill="#fff" stroke="#bfbfbf" stroke-width="1.33"/>
<text x="748.2" y="506.8" textLength="19.5" lengthAdjust="spacingAndGlyphs">set</text>
<rect x="895.4" y="483.5" width="148.4" height="39.8" fill="#fff" stroke="#bfbfbf" stroke-width="1.33"/>
<text x="969.6" y="499.4" textLength="126.1" lengthAdjust="spacingAndGlyphs">boost/property_tree</text>
<text x="969.6" y="513.9" textLength="66.3" lengthAdjust="spacingAndGlyphs">/ptree.hpp</text>
<rect x="1119.5" y="491.0" width="39.0" height="24.8" fill="#fff" stroke="#bfbfbf" stroke-width="1.33"/>
<text x="1138.9" y="506.8" textLength="18.7" lengthAdjust="spacingAndGlyphs">list</text>
<rect x="1183.5" y="491.0" width="57.2" height="24.8" fill="#fff" stroke="#bfbfbf" stroke-width="1.33"/>
<text x="1212.0" y="506.8" textLength="36.6" lengthAdjust="spacingAndGlyphs">string</text>
<rect x="1468.7" y="491.0" width="65.6" height="24.8" fill="#fff" stroke="#bfbfbf" stroke-width="1.33"/>
<text x="1501.5" y="506.8" textLength="43.6" lengthAdjust="spacingAndGlyphs">atomic</text>
<rect x="1660.8" y="491.0" width="127.0" height="24.8" fill="#fff" stroke="#ff0000" stroke-width="1.33"/>
<text x="1724.2" y="506.8" textLength="105.2" lengthAdjust="spacingAndGlyphs">SharedDefines.h</text>
<rect x="2458.8" y="491.0" width="117.3" height="24.8" fill="#fff" stroke="#000000" stroke-width="1.33"/>
<text x="2517.5" y="506.8" textLength="95.6" lengthAdjust="spacingAndGlyphs">DatabaseEnv.h</text>
<rect x="1418.2" y="580.1" width="71.1" height="24.8" fill="#fff" stroke="#000000" stroke-width="1.33"/>
<text x="1453.7" y="595.9" textLength="49.8" lengthAdjust="spacingAndGlyphs">Errors.h</text>
<rect x="1666.6" y="572.6" width="189.9" height="39.8" fill="#fff" stroke="#ff0000" stroke-width="1.33"/>
<text x="1761.5" y="588.5" textLength="168.4" lengthAdjust="spacingAndGlyphs">Implementation/Character</text>
<text x="1761.5" y="603.0" textLength="72.9" lengthAdjust="spacingAndGlyphs">Database.h</text>
<rect x="1881.8" y="580.1" width="234.1" height="24.8" fill="#fff" stroke="#ff0000" stroke-width="1.33"/>
<text x="1998.8" y="595.9" textLength="214.9" lengthAdjust="spacingAndGlyphs">Implementation/WorldDatabase.h</text>
<rect x="2141.5" y="580.1" width="237.7" height="24.8" fill="#fff" stroke="#ff0000" stroke-width="1.33"/>
<text x="2260.3" y="595.9" textLength="216.3" lengthAdjust="spacingAndGlyphs">Implementation/HotfixDatabase.h</text>
<rect x="2404.8" y="580.1" width="233.7" height="24.8" fill="#fff" stroke="#ff0000" stroke-width="1.33"/>
<text x="2521.6" y="595.9" textLength="212.7" lengthAdjust="spacingAndGlyphs">Implementation/LoginDatabase.h</text>
<rect x="2865.8" y="580.1" width="105.9" height="24.8" fill="#fff" stroke="#ff0000" stroke-width="1.33"/>
<text x="2918.8" y="595.9" textLength="85.0" lengthAdjust="spacingAndGlyphs">Transaction.h</text>
<rect x="2997.2" y="580.1" width="109.7" height="24.8" fill="#fff" stroke="#ff0000" stroke-width="1.33"/>
<text x="3052.0" y="595.9" textLength="90.2" lengthAdjust="spacingAndGlyphs">QueryResult.h</text>
<rect x="246.7" y="662.0" width="107.3" height="24.8" fill="#fff" stroke="#ff0000" stroke-width="1.33"/>
<text x="300.3" y="677.8" textLength="87.1" lengthAdjust="spacingAndGlyphs">GridDefines.h</text>
<rect x="1417.9" y="662.0" width="74.2" height="24.8" fill="#fff" stroke="#ff0000" stroke-width="1.33"/>
<text x="1455.0" y="677.8" textLength="53.7" lengthAdjust="spacingAndGlyphs">Define.h</text>
<rect x="2705.3" y="662.0" width="61.5" height="24.8" fill="#fff" stroke="#ff0000" stroke-width="1.33"/>
<text x="2736.1" y="677.8" textLength="41.5" lengthAdjust="spacingAndGlyphs">Field.h</text>
<rect x="2893.8" y="662.0" width="138.2" height="24.8" fill="#fff" stroke="#000000" stroke-width="1.33"/>
<text x="2962.9" y="677.8" textLength="118.4" lengthAdjust="spacingAndGlyphs">MySQLThreading.h</text>
<rect x="1182.4" y="736.8" width="92.0" height="24.8" fill="#fff" stroke="#bfbfbf" stroke-width="1.33"/>
<text x="1228.3" y="752.6" textLength="69.5" lengthAdjust="spacingAndGlyphs">Common.h</text>
<rect x="2827.8" y="736.8" width="56.6" height="24.8" fill="#fff" stroke="#bfbfbf" stroke-width="1.33"/>
<text x="2856.1" y="752.6" textLength="34.9" lengthAdjust="spacingAndGlyphs">Log.h</text>
</g></svg></body></html>
